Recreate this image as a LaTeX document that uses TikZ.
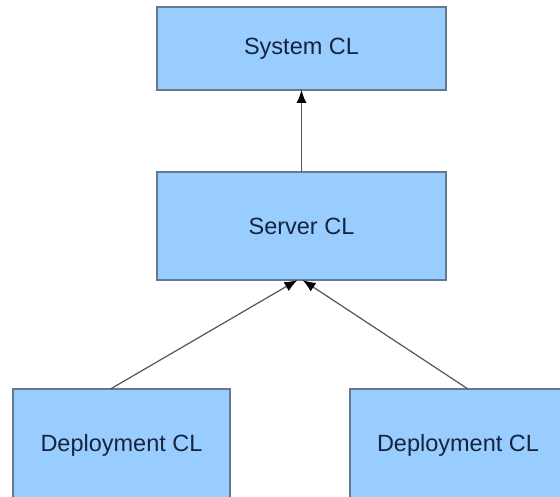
\documentclass[tikz,border=0pt]{standalone}
\usepackage{fontspec}
\setmainfont{Liberation Sans}
\usepackage{tikz}
\usetikzlibrary{arrows.meta}
\definecolor{clfill}{RGB}{153,204,255}
\definecolor{cledge}{RGB}{100,120,145}
\definecolor{cltext}{RGB}{22,36,62}
\definecolor{clline}{RGB}{85,85,85}
\begin{document}
\begin{tikzpicture}[x=1pt,y=-1pt,
  clbox/.style={draw=cledge,line width=1.4pt,fill=clfill,text=cltext,
    inner sep=0pt,outer sep=0pt,font=\fontsize{23.5}{28}\selectfont},
  clarrow/.style={draw=clline,line width=1.2pt,
    -{Latex[length=13pt,width=10pt,fill=black,color=black]}}]
\useasboundingbox (0,0) rectangle (560,497);
\clip (0,0) rectangle (560,497);
\fill[white] (0,0) rectangle (560,497);

\node[clbox,minimum width=289pt,minimum height=83pt] (system) at (301.5,48.5) {System CL};
\node[clbox,minimum width=289pt,minimum height=108pt] (server) at (301.5,226) {Server CL};
\node[clbox,minimum width=217pt,minimum height=112pt] (deployA) at (121.5,445) {Deployment CL};
\node[clbox,minimum width=216pt,minimum height=112pt] (deployB) at (458,445) {Deployment CL};

\draw[clarrow] (server.north) -- (system.south);
\draw[clarrow] ([xshift=-11pt]deployA.north) -- ([xshift=-4pt]server.south);
\draw[clarrow] ([xshift=10pt]deployB.north) -- ([xshift=1pt]server.south);

\end{tikzpicture}
\end{document}
